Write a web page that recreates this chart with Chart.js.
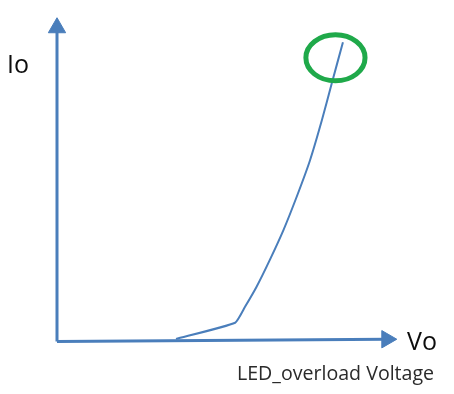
<!DOCTYPE html>
<html>
<head>
<meta charset="utf-8">
<script src="https://cdn.jsdelivr.net/npm/chart.js"></script>
<style>
  body { margin: 0; background: #fff; }
  #wrap { position: relative; width: 454px; height: 394px; }
  .lbl { position: absolute; font-family: "Open Sans", sans-serif; line-height: 1; white-space: nowrap; }
  #io { left: 7px; top: 51px; font-size: 25px; color: #0d0d0d; }
  #vo { left: 407px; top: 328px; font-size: 25px; color: #0d0d0d; }
  #vname { left: 237px; top: 362.5px; font-size: 19.6px; color: #2a2a2a; }
</style>
</head>
<body>
<div id="wrap">
  <canvas id="ivChart"></canvas>
  <div class="lbl" id="io">Io</div>
  <div class="lbl" id="vo">Vo</div>
  <div class="lbl" id="vname">LED_overload Voltage</div>
</div>
<script>
  // curve (Vo, Io in arbitrary units, axis tips = 10)
  const voValues = [3.50, 5.24, 5.53, 5.87, 6.26, 6.66, 7.05, 7.44, 7.79, 8.08, 8.41];
  const ioValues = [0.08, 0.58, 1.07, 1.69, 2.52, 3.44, 4.47, 5.59, 6.83, 7.97, 9.24];

  // axes drawn as lines, arrow head sits on the last point
  const xAxisLine = [[0, 0], [9.7, 0.07]];
  const yAxisLine = [[0, 0], [0, 9.69]];

  // green mark round the top of the curve
  const markCenter = [8.19, 8.76];
  const markRadius = [0.87, 0.71];

  const blue = '#4a7ebb';
  const toPoints = arr => arr.map(p => ({ x: p[0], y: p[1] }));

  const ellipseMark = {
    id: 'ellipseMark',
    afterDatasetsDraw(chart) {
      const { ctx, scales: { x, y } } = chart;
      const cx = x.getPixelForValue(markCenter[0]);
      const cy = y.getPixelForValue(markCenter[1]);
      const rx = x.getPixelForValue(markCenter[0] + markRadius[0]) - cx;
      const ry = cy - y.getPixelForValue(markCenter[1] + markRadius[1]);
      ctx.save();
      ctx.beginPath();
      ctx.ellipse(cx, cy, rx, ry, 0, 0, Math.PI * 2);
      ctx.strokeStyle = '#1fa94a';
      ctx.lineWidth = 5;
      ctx.stroke();
      ctx.restore();
    }
  };

  const ctx = document.getElementById('ivChart').getContext('2d');
  const ivChart = new Chart(ctx, {
    type: 'scatter',
    data: {
      datasets: [{
        label: 'Vo axis',
        data: toPoints(xAxisLine),
        showLine: true,
        borderColor: blue,
        borderWidth: 3,
        pointStyle: 'triangle',
        pointRotation: 90,
        pointRadius: [0, 10],
        pointBackgroundColor: blue,
        pointBorderColor: blue,
        pointBorderWidth: 1,
        clip: false
      },
      {
        label: 'Io axis',
        data: toPoints(yAxisLine),
        showLine: true,
        borderColor: blue,
        borderWidth: 3,
        pointStyle: 'triangle',
        pointRotation: 0,
        pointRadius: [0, 10],
        pointBackgroundColor: blue,
        pointBorderColor: blue,
        pointBorderWidth: 1,
        clip: false
      },
      {
        label: 'Io(Vo)',
        data: voValues.map((v, i) => ({ x: v, y: ioValues[i] })),
        showLine: true,
        borderColor: blue,
        borderWidth: 2,
        pointRadius: 0,
        tension: 0.15,
        clip: false
      }]
    },
    options: {
      responsive: true,
      maintainAspectRatio: false,
      animation: false,
      layout: { padding: { left: 57, right: 57, top: 17.7, bottom: 52.5 } },
      plugins: { legend: { display: false }, tooltip: { enabled: false } },
      scales: {
        x: { type: 'linear', min: 0, max: 10, display: false },
        y: { type: 'linear', min: 0, max: 10, display: false }
      }
    },
    plugins: [ellipseMark]
  });
</script>
</body>
</html>
